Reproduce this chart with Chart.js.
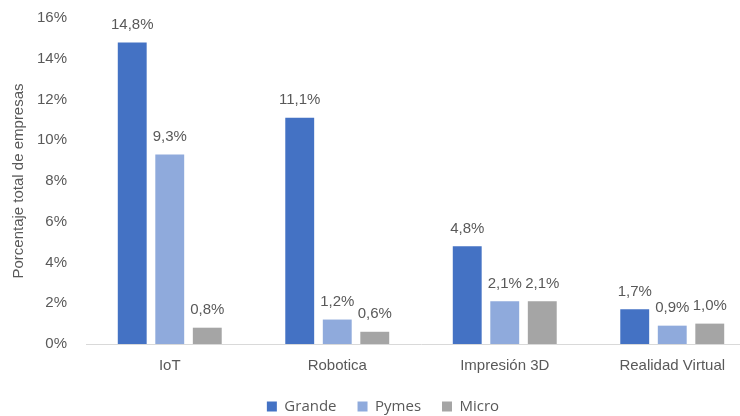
<!DOCTYPE html>
<html>
<head>
<meta charset="utf-8">
<script src="https://cdn.jsdelivr.net/npm/chart.js@4/dist/chart.umd.min.js"></script>
<style>
  html, body { margin: 0; padding: 0; background: #fff; overflow: hidden; }
  #wrap { width: 760px; height: 426px; }
</style>
</head>
<body>
<div id="wrap"><canvas id="myChart" width="760" height="426"></canvas></div>
<script>
var categories = ['IoT', 'Robotica', 'Impresión 3D', 'Realidad Virtual'];

var grandeData = [14.8, 11.1, 4.8, 1.7];
var pymesData = [9.3, 1.2, 2.1, 0.9];
var microData = [0.8, 0.6, 2.1, 1.0];

var yTicks = [0, 2, 4, 6, 8, 10, 12, 14, 16];

var textColor = '#595959';
var mainFont = '"Liberation Sans", Arial, sans-serif';

function pct(v){
  return v.toFixed(1).replace('.', ',') + '%';
}

// writes the value over each bar
var valueLabels = {
  id: 'valueLabels',
  afterDatasetsDraw: function(chart){
    var ctx = chart.ctx;
    ctx.save();
    ctx.font = '15px ' + mainFont;
    ctx.fillStyle = textColor;
    ctx.textAlign = 'center';
    ctx.textBaseline = 'bottom';
    chart.data.datasets.forEach(function(ds, i){
      var meta = chart.getDatasetMeta(i);
      meta.data.forEach(function(bar, j){
        ctx.fillText(pct(ds.data[j]), bar.x, bar.y - 10);
      });
    });
    ctx.restore();
  }
};

var ctx = document.getElementById('myChart').getContext('2d');

var myChart = new Chart(ctx, {
  type: 'bar',
  data: {
    labels: categories,
    datasets: [
      { label: 'Grande', data: grandeData, backgroundColor: '#4472C4' },
      { label: 'Pymes', data: pymesData, backgroundColor: '#8FAADC' },
      { label: 'Micro', data: microData, backgroundColor: '#A5A5A5' }
    ]
  },
  options: {
    responsive: false,
    animation: false,
    layout: { padding: { top: 18, right: 4, bottom: 2, left: 10 } },
    datasets: {
      bar: { categoryPercentage: 0.672, barPercentage: 0.77 }
    },
    scales: {
      x: {
        grid: { display: false, drawTicks: false },
        border: { display: true, color: '#D9D9D9', width: 1 },
        ticks: { color: textColor, font: { family: mainFont, size: 15 }, padding: 13 },
        afterFit: function(scale){ scale.height = 34; }
      },
      y: {
        min: 0,
        max: 16,
        grid: { display: false, drawTicks: false },
        border: { display: false },
        afterBuildTicks: function(scale){
          scale.ticks = yTicks.map(function(v){ return { value: v }; });
        },
        ticks: {
          color: textColor,
          font: { family: mainFont, size: 15 },
          padding: 19,
          callback: function(v){ return v + '%'; }
        },
        title: {
          display: true,
          text: 'Porcentaje total de empresas',
          color: textColor,
          font: { family: mainFont, size: 15 },
          padding: { top: 0, bottom: 0 }
        },
        afterFit: function(scale){
          scale.width = 76;
          // only keep room for half a label above the top tick
          scale.paddingTop = 9;
          scale.paddingBottom = 9;
        }
      }
    },
    plugins: {
      legend: {
        position: 'bottom',
        labels: {
          color: textColor,
          font: { family: '"Open Sans", "Liberation Sans", sans-serif', size: 15 },
          boxWidth: 10,
          boxHeight: 10,
          padding: 21
        }
      },
      tooltip: { enabled: false }
    }
  },
  plugins: [valueLabels]
});
</script>
</body>
</html>
